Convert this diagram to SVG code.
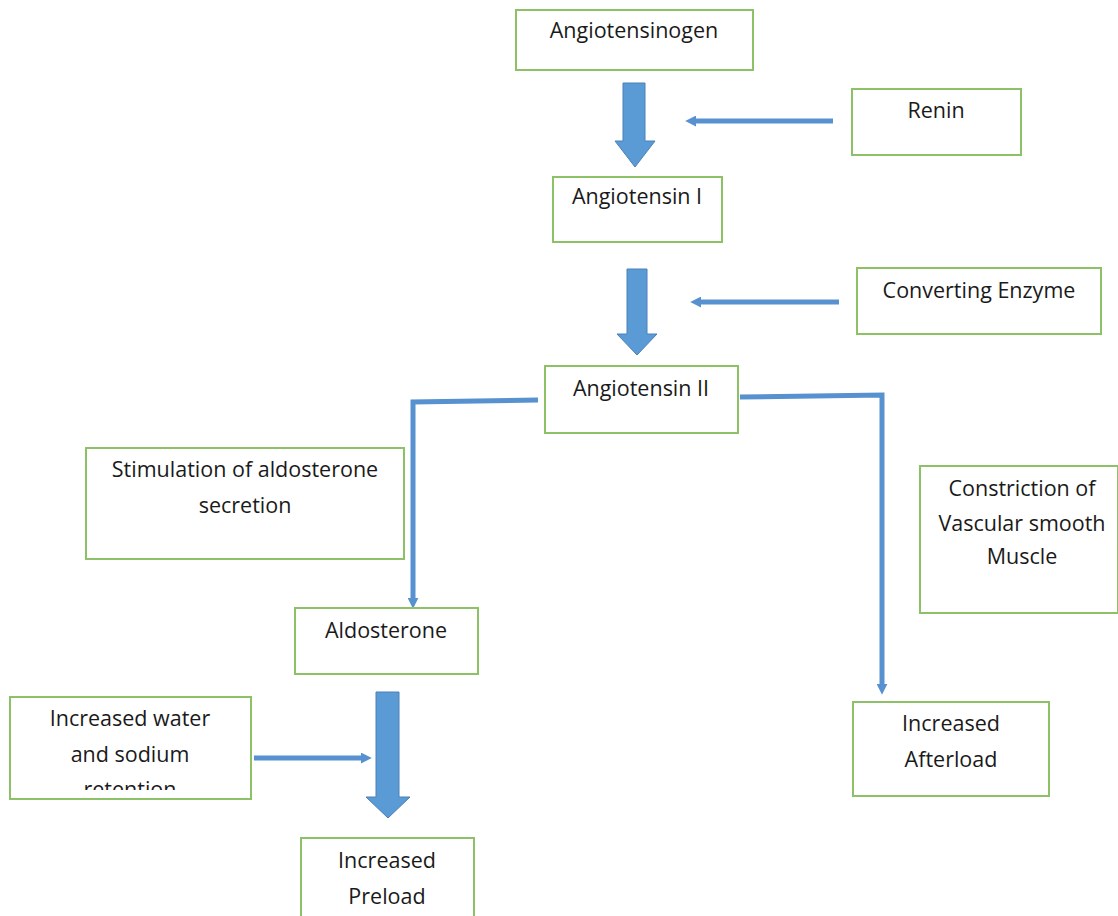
<svg xmlns="http://www.w3.org/2000/svg" width="1118" height="916" viewBox="0 0 1118 916">
<style>
.box{fill:#fff;stroke:#8CC168;stroke-width:2}
.t{font-family:"Open Sans","Liberation Sans",sans-serif;font-size:21.5px;fill:#1a1a1a;text-anchor:middle}
.blk{fill:#5B9BD5;stroke:#4A80B8;stroke-width:1}
.ln{fill:none;stroke:#5791CF;stroke-width:5}
</style>
<defs>
<marker id="ah" viewBox="0 0 10 10" refX="2" refY="5" markerWidth="2.2" markerHeight="2.2" orient="auto">
<path d="M0,0 L10,5 L0,10 z" fill="#5791CF"/>
</marker>
<clipPath id="cw"><rect x="11" y="698" width="239" height="92"/></clipPath>
</defs>
<rect width="1118" height="916" fill="#fff"/>
<g id="connectors">
<polygon class="blk" points="623,83 645,83 645,141 655,141 635,167 615,141 623,141"/>
<polygon class="blk" points="627,269 647,269 647,334 657,334 637,355 617,334 627,334"/>
<polygon class="blk" points="376,692 399,692 399,797 410,797 388,818 366,797 376,797"/>
<line class="ln" x1="833" y1="121" x2="694" y2="121" marker-end="url(#ah)"/>
<line class="ln" x1="839" y1="302" x2="699" y2="302" marker-end="url(#ah)"/>
<line class="ln" x1="254" y1="758" x2="363" y2="758" marker-end="url(#ah)"/>
<polyline class="ln" points="538,400 413,402 413,600" marker-end="url(#ah)"/>
<polyline class="ln" points="740,397 882,395 882,686" marker-end="url(#ah)"/>
</g>
<g id="angiotensinogen"><rect class="box" x="516" y="10" width="237" height="60"/><text class="t" x="634" y="38">Angiotensinogen</text></g>
<g id="renin"><rect class="box" x="852" y="89" width="169" height="66"/><text class="t" x="936" y="118">Renin</text></g>
<g id="angiotensin1"><rect class="box" x="553" y="177" width="169" height="65"/><text class="t" x="637" y="204">Angiotensin I</text></g>
<g id="converting"><rect class="box" x="857" y="268" width="244" height="66"/><text class="t" x="979" y="298">Converting Enzyme</text></g>
<g id="angiotensin2"><rect class="box" x="545" y="366" width="193" height="67"/><text class="t" x="641" y="396">Angiotensin II</text></g>
<g id="stimulation"><rect class="box" x="86" y="448" width="318" height="111"/><text class="t" x="245" y="477">Stimulation of aldosterone</text><text class="t" x="245" y="513">secretion</text></g>
<g id="constriction"><rect class="box" x="920" y="466" width="198" height="147"/><text class="t" x="1022" y="496">Constriction of</text><text class="t" x="1022" y="531">Vascular smooth</text><text class="t" x="1022" y="564">Muscle</text></g>
<g id="aldosterone"><rect class="box" x="295" y="608" width="183" height="66"/><text class="t" x="386" y="638">Aldosterone</text></g>
<g id="water"><rect class="box" x="10" y="697" width="241" height="102"/><g clip-path="url(#cw)"><text class="t" x="130" y="726">Increased water</text><text class="t" x="130" y="762">and sodium</text><text class="t" x="130" y="797">retention</text></g></g>
<g id="preload"><rect class="box" x="301" y="838" width="173" height="90"/><text class="t" x="387" y="868">Increased</text><text class="t" x="387" y="904">Preload</text></g>
<g id="afterload"><rect class="box" x="853" y="702" width="196" height="94"/><text class="t" x="951" y="731">Increased</text><text class="t" x="951" y="767">Afterload</text></g>
</svg>
